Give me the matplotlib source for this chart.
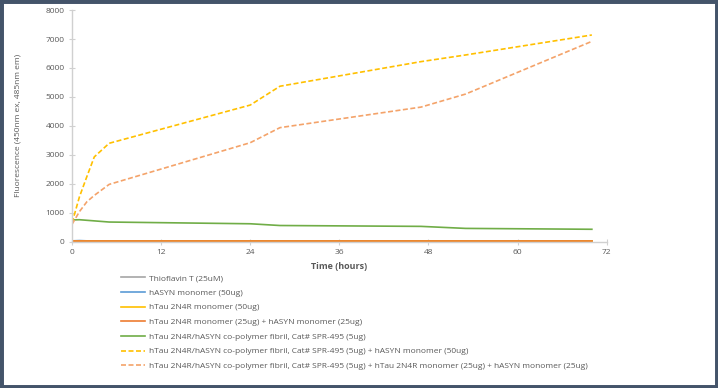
import matplotlib.pyplot as plt
from matplotlib.patches import Rectangle

plt.rcParams['font.family'] = ['Open Sans', 'DejaVu Sans']

hours = [0, 1, 2, 3, 5, 24, 28, 47, 53, 70]
thioflavin = [20, 20, 20, 20, 20, 20, 20, 20, 20, 20]
hasyn = [30, 40, 30, 30, 30, 30, 30, 30, 30, 30]
htau = [20, 20, 20, 20, 20, 20, 20, 20, 20, 20]
htau_hasyn = [30, 30, 30, 30, 30, 30, 30, 30, 30, 30]
fibril = [750, 760, 740, 720, 680, 620, 560, 530, 460, 430]
fibril_hasyn = [650, 1550, 2250, 2930, 3400, 4720, 5370, 6220, 6450, 7140]
fibril_htau_hasyn = [600, 1040, 1380, 1600, 1980, 3420, 3940, 4650, 5100, 6920]

labels = ["Thioflavin T (25uM)",
          "hASYN monomer (50ug)",
          "hTau 2N4R monomer (50ug)",
          "hTau 2N4R monomer (25ug) + hASYN monomer (25ug)",
          "hTau 2N4R/hASYN co-polymer fibril, Cat# SPR-495 (5ug)",
          "hTau 2N4R/hASYN co-polymer fibril, Cat# SPR-495 (5ug) + hASYN monomer (50ug)",
          "hTau 2N4R/hASYN co-polymer fibril, Cat# SPR-495 (5ug) + hTau 2N4R monomer (25ug) + hASYN monomer (25ug)"]
series = [thioflavin, hasyn, htau, htau_hasyn, fibril, fibril_hasyn, fibril_htau_hasyn]
colors = ["#A5A5A5", "#5B9BD5", "#FFC000", "#ED7D31", "#70AD47", "#FFC000", "#F4A36A"]
styles = ["-", "-", "-", "-", "-", (0, (3, 1.5)), (0, (3, 1.5))]

fig = plt.figure(figsize=(7.18, 3.88), dpi=100)
ax = fig.add_axes([0.1003, 0.377, 0.7447, 0.597])

for s, c, ls, l in zip(series, colors, styles, labels):
    ax.plot(hours, s, color=c, linestyle=ls, linewidth=1.2, label=l)

ax.set_xlim(0, 72)
ax.set_ylim(0, 8000)
ax.set_xticks(range(0, 73, 12))
ax.set_yticks(range(0, 8001, 1000))
for sp in ["top", "right"]:
    ax.spines[sp].set_visible(False)
for sp in ["left", "bottom"]:
    ax.spines[sp].set_color("#D0D0D0")
    ax.spines[sp].set_linewidth(1)
ax.tick_params(direction="inout", length=5, color="#D0D0D0", labelsize=6, labelcolor="#595959", pad=3)
ax.set_xlabel("Time (hours)", fontsize=6.5, color="#595959", fontweight="bold", labelpad=4)
ax.set_ylabel("Fluorescence (450nm ex, 485nm em)", fontsize=6, color="#595959", labelpad=17)

fig.legend(loc="upper left", bbox_to_anchor=(0.168, 0.293), frameon=False, fontsize=6,
           labelcolor="#595959", handlelength=2.9, handletextpad=0.5, labelspacing=0.82,
           borderaxespad=0, borderpad=0)

fig.patches.append(Rectangle((0, 0), 1, 1, transform=fig.transFigure, fill=False,
                             edgecolor="#44546A", linewidth=5, zorder=10))

fig.savefig("out.png", dpi=100)
